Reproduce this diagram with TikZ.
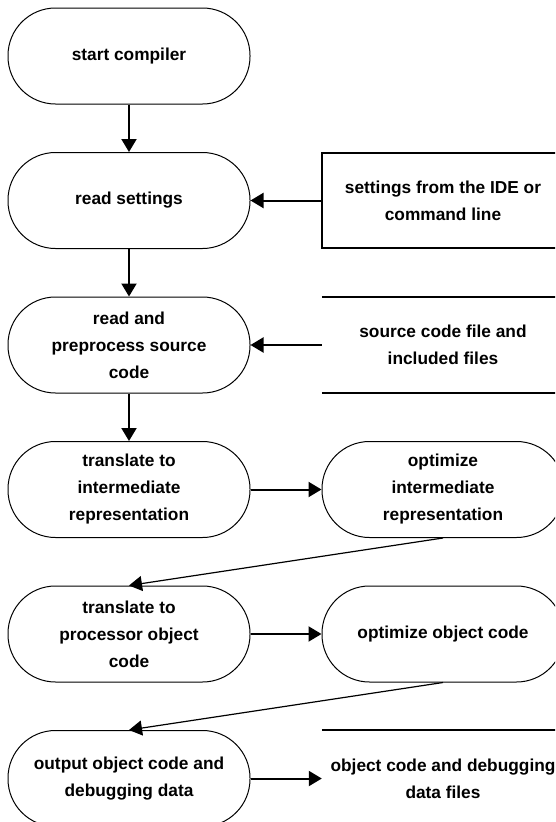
\documentclass[tikz,border=0pt]{standalone}
\usepackage{fontspec}
\setmainfont{Liberation Sans}
\usetikzlibrary{arrows.meta}
\begin{document}
\begin{tikzpicture}[x=1pt,y=-1pt,
  txt/.style={font=\fontsize{17.3}{27}\selectfont\bfseries, align=center, inner sep=0pt},
  term/.style={txt, draw, line width=1pt, rounded corners=47.5pt, minimum width=242pt, minimum height=96pt},
  extbox/.style={txt, draw, line width=2pt, minimum width=242pt, minimum height=95pt},
  store/.style={txt, minimum width=242pt, minimum height=96pt},
  storeline/.style={line width=2pt},
  conn/.style={line width=2pt, -{Triangle[length=13pt,width=15pt]}},
  diag/.style={line width=1.2pt, -{Triangle[length=13pt,width=15pt]}}]
\useasboundingbox (0,0) rectangle (555,822);
\clip (0,0) rectangle (555,822);

\node[term] (start) at (129,56) {start compiler};
\node[term] (read) at (129,200.5) {read settings};
\node[term] (pre) at (129,345) {read and\\preprocess source\\code};
\node[term] (trI) at (129,489.5) {translate to\\intermediate\\representation};
\node[term] (optI) at (443,489.5) {optimize\\intermediate\\representation};
\node[term] (trP) at (129,634) {translate to\\processor object\\code};
\node[term] (optO) at (443,634) {optimize object code};
\node[term] (out) at (129,778.5) {output object code and\\debugging data};

\node[extbox] (set) at (443,200.5) {settings from the IDE or\\command line};
\node[store] (src) at (443,345) {source code file and\\included files};
\draw[storeline] (src.north west) -- (src.north east);
\draw[storeline] (src.south west) -- (src.south east);
\node[store] (files) at (443,778.5) {object code and debugging\\data files};
\draw[storeline] (files.north west) -- (files.north east);
\draw[storeline] (files.south west) -- (files.south east);

\draw[conn] (start) -- (read);
\draw[conn] (read) -- (pre);
\draw[conn] (pre) -- (trI);
\draw[conn] (set) -- (read);
\draw[conn] (src.west) -- (pre);
\draw[conn] (trI) -- (optI);
\draw[diag] (optI.south) -- (trP.north);
\draw[conn] (trP) -- (optO);
\draw[diag] (optO.south) -- (out.north);
\draw[conn] (out) -- (files.west);
\end{tikzpicture}
\end{document}
